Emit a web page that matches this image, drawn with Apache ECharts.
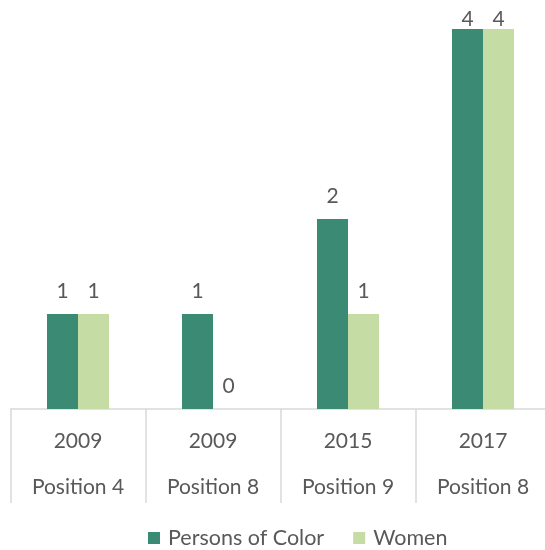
<!DOCTYPE html>
<html>
<head>
<meta charset="utf-8">
<script src="https://cdn.jsdelivr.net/npm/echarts@6/dist/echarts.min.js"></script>
<style>
  html, body { margin: 0; padding: 0; background: #fff; overflow: hidden; }
  /* the original picture is a crop: the plot runs past its right edge */
  #chart { width: 551px; height: 550px; }
</style>
</head>
<body>
<div id="chart"></div>
<script>
// categories: year / position
const years = ["2009", "2009", "2015", "2017"];
const positions = ["Position 4", "Position 8", "Position 9", "Position 8"];
// series values
const personsOfColor = [1, 1, 2, 4];
const women = [1, 0, 1, 4];
const yMax = 4;

const labelColor = "#595959";
const font = "Lato";

// labels at the top of the plot get squeezed down like in the original
function toData(values) {
  return values.map(v => (v === yMax ? { value: v, label: { distance: -1 } } : v));
}

const chart = echarts.init(document.getElementById("chart"));
chart.setOption({
  animation: false,
  textStyle: { fontFamily: font },
  grid: { left: 10.5, top: 29, right: 0.5, bottom: 141 },
  legend: {
    left: 148,
    top: 527,
    padding: 0,
    icon: "rect",
    itemWidth: 12,
    itemHeight: 12,
    itemGap: 29,
    textStyle: { color: labelColor, fontSize: 21.5, fontFamily: font, padding: [0, 0, 0, 3] },
    data: ["Persons of Color", "Women"]
  },
  xAxis: {
    type: "category",
    data: years.map((y, i) => y + "\n" + positions[i]),
    axisLine: { lineStyle: { color: "#d9d9d9", width: 1.5 } },
    axisTick: { show: true, length: 94, lineStyle: { color: "#d9d9d9", width: 1.5 } },
    axisLabel: { color: labelColor, fontSize: 21, lineHeight: 46, margin: 9, fontFamily: font }
  },
  yAxis: {
    type: "value",
    min: 0,
    max: yMax,
    show: false
  },
  series: [
    {
      name: "Persons of Color",
      type: "bar",
      barWidth: 31,
      barGap: "0%",
      itemStyle: { color: "#3b8a73" },
      label: { show: true, position: "top", distance: 12, color: labelColor, fontSize: 21, fontFamily: font },
      data: toData(personsOfColor)
    },
    {
      name: "Women",
      type: "bar",
      barWidth: 31,
      itemStyle: { color: "#c5dca4" },
      label: { show: true, position: "top", distance: 12, color: labelColor, fontSize: 21, fontFamily: font },
      data: toData(women)
    }
  ]
});
</script>
</body>
</html>
